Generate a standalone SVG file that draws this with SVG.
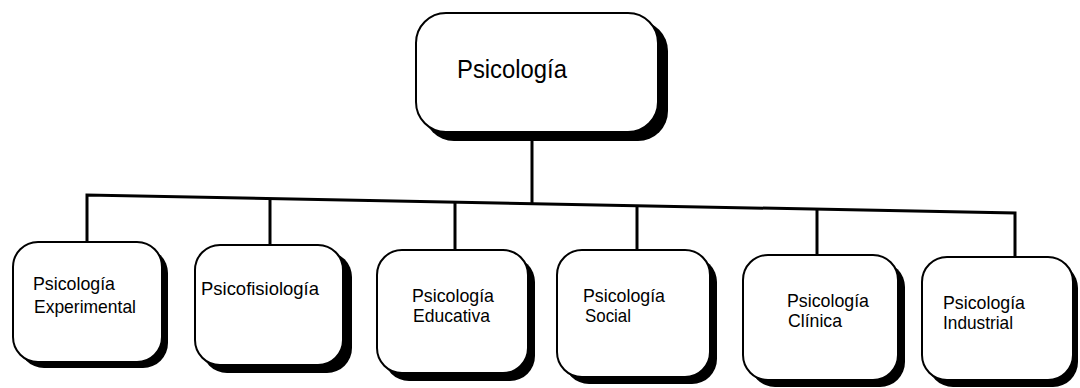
<svg xmlns="http://www.w3.org/2000/svg" width="1080" height="388" viewBox="0 0 1080 388">
<style>
.shadow{fill:#000}
.box{fill:#fff;stroke:#000;stroke-width:2}
.conn{fill:none;stroke:#000;stroke-width:3}
.t{font-family:"Liberation Sans",Arial,sans-serif;fill:#000}
.big{font-size:26px}
.small{font-size:18.5px}
</style>
<rect width="1080" height="388" fill="#fff"/>
<g id="connectors">
<path class="conn" d="M532,132 L532,203.6"/>
<path class="conn" d="M87,242 L87,195 L1015,213 L1015,257"/>
<path class="conn" d="M270,198.5 L270,245"/>
<path class="conn" d="M455,202.1 L455,250"/>
<path class="conn" d="M637,205.7 L637,250"/>
<path class="conn" d="M817,209.2 L817,255"/>
</g>
<g id="n0">
<rect class="shadow" x="424" y="21" width="244" height="120" rx="30"/>
<rect class="box" x="416" y="13" width="242" height="119" rx="30"/>
<text class="t big" x="457" y="78" textLength="110" lengthAdjust="spacingAndGlyphs">Psicología</text>
</g>
<g id="n1">
<rect class="shadow" x="19" y="248" width="149" height="120" rx="25"/>
<rect class="box" x="13" y="242" width="149" height="120" rx="25"/>
<text class="t small" x="33" y="290" textLength="82" lengthAdjust="spacingAndGlyphs">Psicología</text>
<text class="t small" x="34" y="313" textLength="102" lengthAdjust="spacingAndGlyphs">Experimental</text>
</g>
<g id="n2">
<rect class="shadow" x="202" y="252" width="150" height="121" rx="25"/>
<rect class="box" x="195" y="245" width="148" height="120" rx="25"/>
<text class="t small" x="201" y="295" textLength="118" lengthAdjust="spacingAndGlyphs">Psicofisiología</text>
</g>
<g id="n3">
<rect class="shadow" x="384" y="257" width="151" height="124" rx="25"/>
<rect class="box" x="377" y="250" width="151" height="123" rx="25"/>
<text class="t small" x="412" y="302" textLength="82" lengthAdjust="spacingAndGlyphs">Psicología</text>
<text class="t small" x="413" y="322" textLength="77" lengthAdjust="spacingAndGlyphs">Educativa</text>
</g>
<g id="n4">
<rect class="shadow" x="564" y="257" width="153" height="127" rx="25"/>
<rect class="box" x="557" y="250" width="153" height="127" rx="25"/>
<text class="t small" x="583" y="302" textLength="82" lengthAdjust="spacingAndGlyphs">Psicología</text>
<text class="t small" x="585" y="322" textLength="46" lengthAdjust="spacingAndGlyphs">Social</text>
</g>
<g id="n5">
<rect class="shadow" x="750" y="262" width="155" height="125" rx="25"/>
<rect class="box" x="743" y="255" width="155" height="125" rx="25"/>
<text class="t small" x="787" y="307" textLength="82" lengthAdjust="spacingAndGlyphs">Psicología</text>
<text class="t small" x="788" y="327" textLength="54" lengthAdjust="spacingAndGlyphs">Clínica</text>
</g>
<g id="n6">
<rect class="shadow" x="928" y="263" width="150" height="124" rx="25"/>
<rect class="box" x="922" y="257" width="151" height="123" rx="25"/>
<text class="t small" x="943" y="309" textLength="82" lengthAdjust="spacingAndGlyphs">Psicología</text>
<text class="t small" x="943" y="329" textLength="70" lengthAdjust="spacingAndGlyphs">Industrial</text>
</g>
</svg>
